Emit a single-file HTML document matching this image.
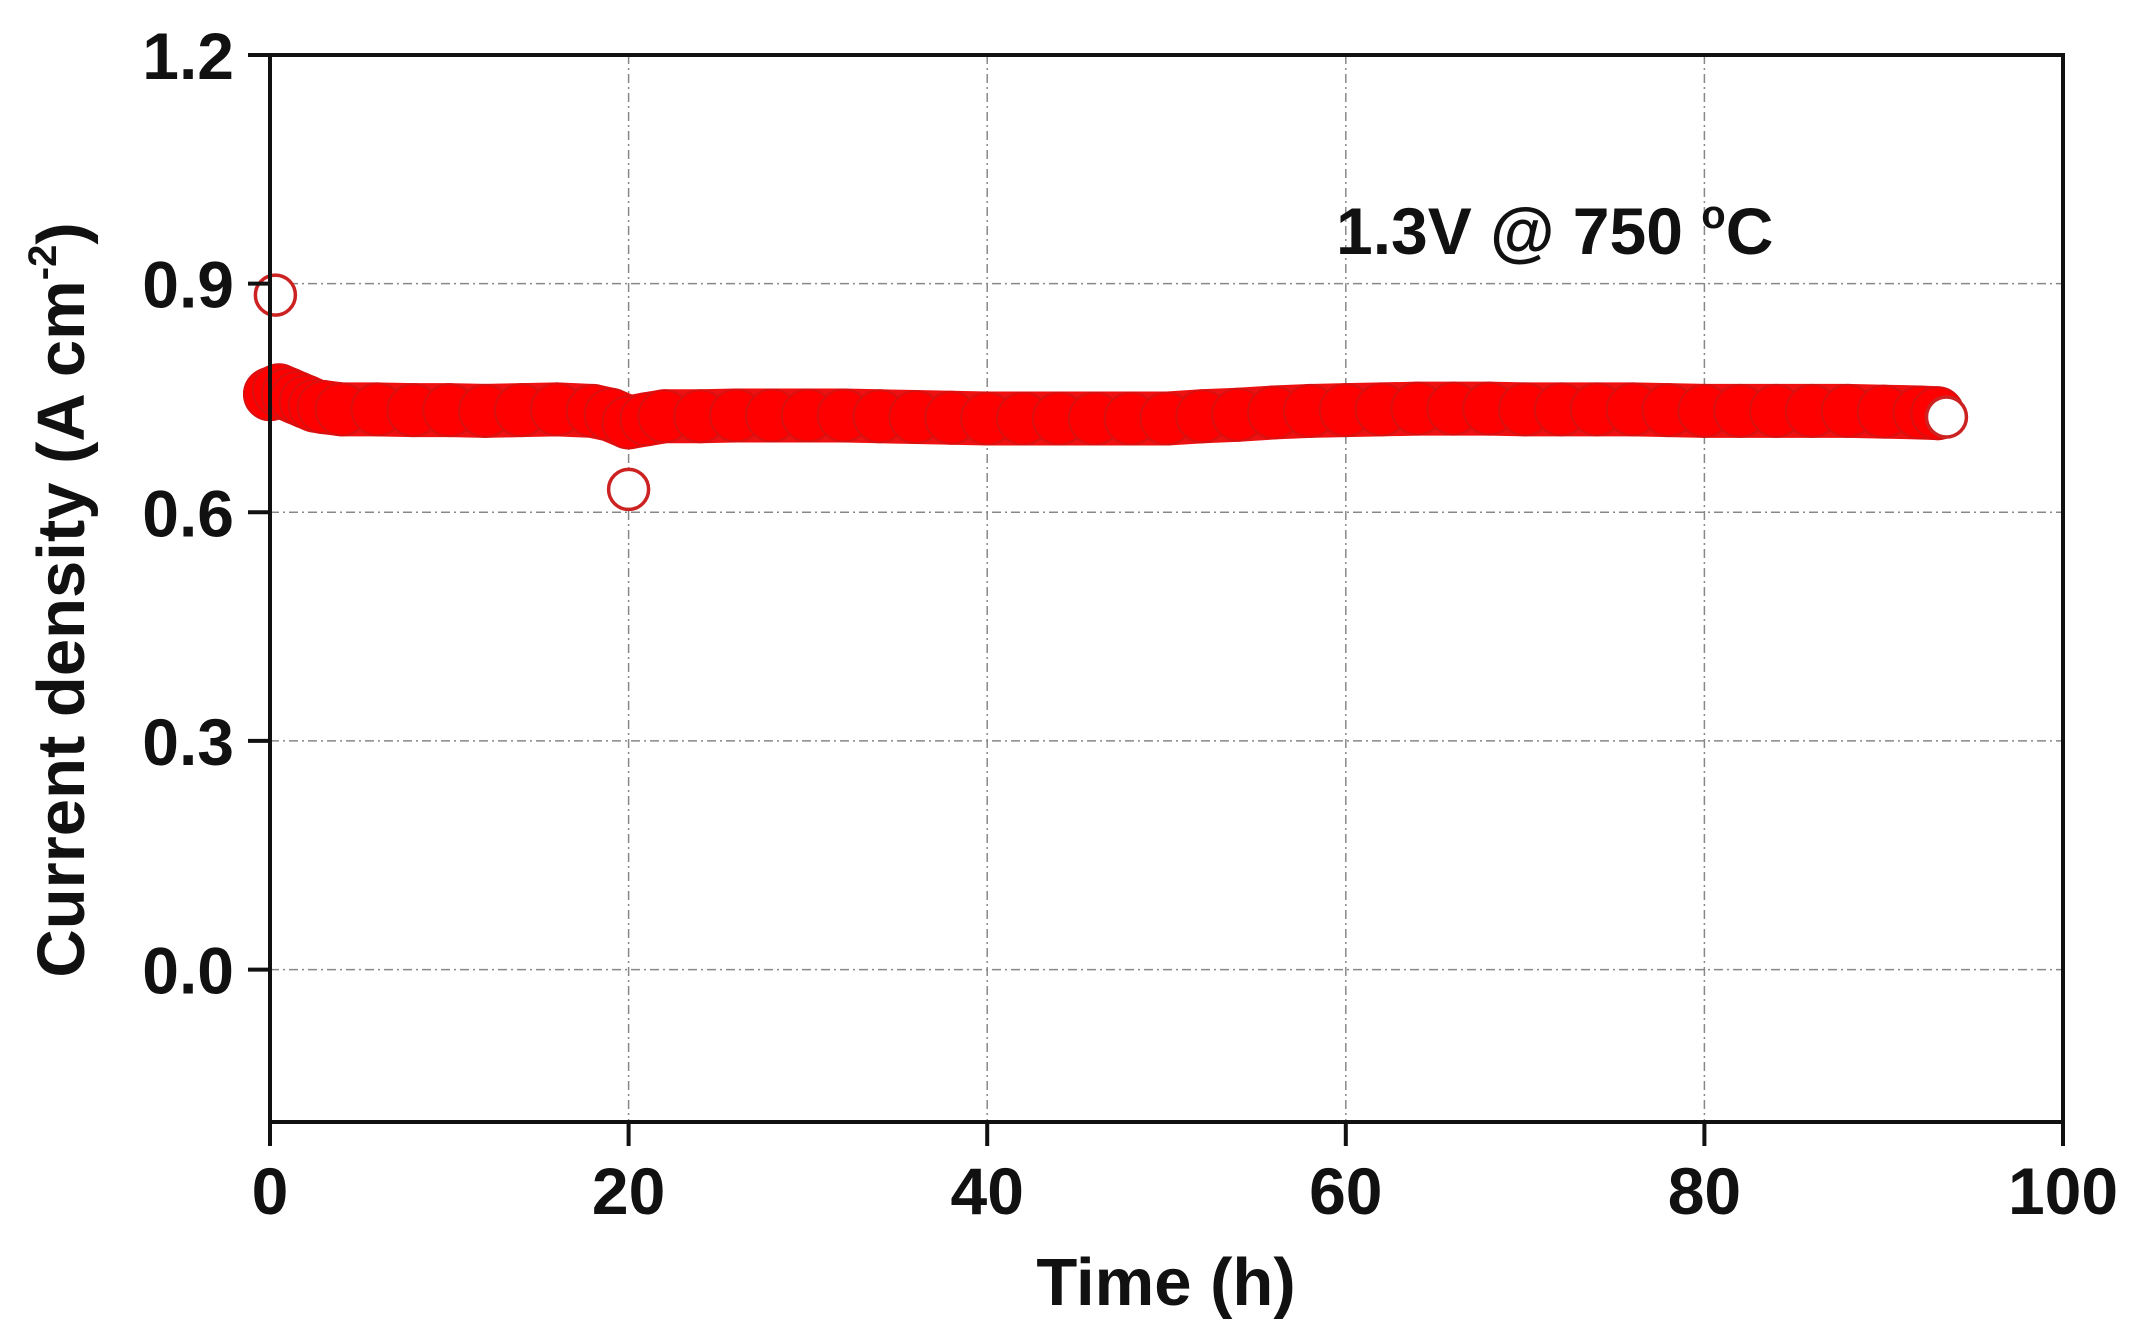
<!DOCTYPE html>
<html><head><meta charset="utf-8"><style>
html,body{margin:0;padding:0;background:#fff;}
svg text{font-family:"Liberation Sans",Arial,sans-serif;font-weight:bold;fill:#111;}
</style></head><body>
<svg id="chart" width="2137" height="1338" viewBox="0 0 2137 1338" xmlns="http://www.w3.org/2000/svg">
<g id="grid"></g>
<g id="series"></g>
<g id="axes"></g>
<text x="1336" y="254" font-size="66">1.3V @ 750 <tspan font-size="40" dy="-26">o</tspan><tspan dy="26">C</tspan></text>
<text x="1166" y="1305" font-size="67" text-anchor="middle">Time (h)</text>
<text transform="translate(84,600) rotate(-90)" font-size="67" text-anchor="middle">Current density (A cm<tspan font-size="40" dy="-28">-2</tspan><tspan dy="28">)</tspan></text>
</svg>
<script>
const xTicks=[0,20,40,60,80,100];
const yTicks=[0.0,0.3,0.6,0.9,1.2];
const yTickLabels=["0.0","0.3","0.6","0.9","1.2"];
const times=[0,0.5,1,1.5,2,2.5,3,4,6,8,10,12,14,16,18,19,20,21,22,24,26,28,30,32,34,36,38,40,42,44,46,48,50,52,54,56,58,60,62,64,66,68,70,72,74,76,78,80,82,84,86,88,90,92,93];
const values=[0.755,0.76,0.755,0.75,0.745,0.74,0.738,0.735,0.735,0.734,0.734,0.733,0.734,0.735,0.733,0.728,0.718,0.722,0.726,0.726,0.727,0.727,0.727,0.727,0.726,0.725,0.724,0.723,0.723,0.723,0.723,0.723,0.723,0.726,0.728,0.731,0.733,0.734,0.735,0.736,0.736,0.736,0.735,0.735,0.735,0.735,0.734,0.733,0.733,0.733,0.733,0.733,0.732,0.731,0.73];
const outlierTimes=[0.3,20,93.5];
const outlierValues=[0.885,0.63,0.725];
const NS="http://www.w3.org/2000/svg";
const X0=270,X1=2063,YT=55,YB=1122,YMIN=-0.2,YMAX=1.2;
function xs(v){return X0+(v-0)/(100-0)*(X1-X0);}
function ys(v){return YB-(v-YMIN)/(YMAX-YMIN)*(YB-YT);}
function mk(tag,attrs,parent){const e=document.createElementNS(NS,tag);for(const k in attrs)e.setAttribute(k,attrs[k]);parent.appendChild(e);return e;}
const grid=document.getElementById('grid'),axes=document.getElementById('axes'),ser=document.getElementById('series');
xTicks.forEach(t=>{if(t>0&&t<100){const l=mk('line',{x1:xs(t),x2:xs(t),y1:YT,y2:YB,stroke:'#888','stroke-width':1.5,'stroke-dasharray':'9 4 2 4'},grid);

}});
yTicks.forEach(t=>{if(t<1.2){const l=mk('line',{x1:X0,x2:X1,y1:ys(t),y2:ys(t),stroke:'#888','stroke-width':1.5,'stroke-dasharray':'9 4 2 4'},grid);

}});
let pts=times.map((t,i)=>xs(t)+','+ys(values[i])).join(' ');
const band=mk('polyline',{points:pts,fill:'none',stroke:'#ee1111','stroke-width':54,'stroke-linejoin':'round','stroke-linecap':'round'},ser);


times.forEach((t,i)=>{const c=mk('circle',{cx:xs(t),cy:ys(values[i]),r:26,fill:'#f00',stroke:'#d81010','stroke-width':2},ser);

});
outlierTimes.forEach((t,i)=>{const c=mk('circle',{cx:xs(t),cy:ys(outlierValues[i]),r:20,fill:'#fff',stroke:'#cc2222','stroke-width':3.5},ser);

});
const fr=mk('rect',{x:X0,y:YT,width:X1-X0,height:YB-YT,fill:'none',stroke:'#111','stroke-width':4},axes);


xTicks.forEach(t=>{const l=mk('line',{x1:xs(t),x2:xs(t),y1:YB,y2:YB+24,stroke:'#111','stroke-width':4},axes);


const tx=mk('text',{x:xs(t),y:YB+92,'font-size':66,'text-anchor':'middle'},axes);tx.textContent=t;

});
yTicks.forEach((t,i)=>{const l=mk('line',{x1:X0-22,x2:X0,y1:ys(t),y2:ys(t),stroke:'#111','stroke-width':4},axes);


const tx=mk('text',{x:X0-36,y:ys(t)+24,'font-size':66,'text-anchor':'end'},axes);tx.textContent=yTickLabels[i];

});
</script>
</body></html>
